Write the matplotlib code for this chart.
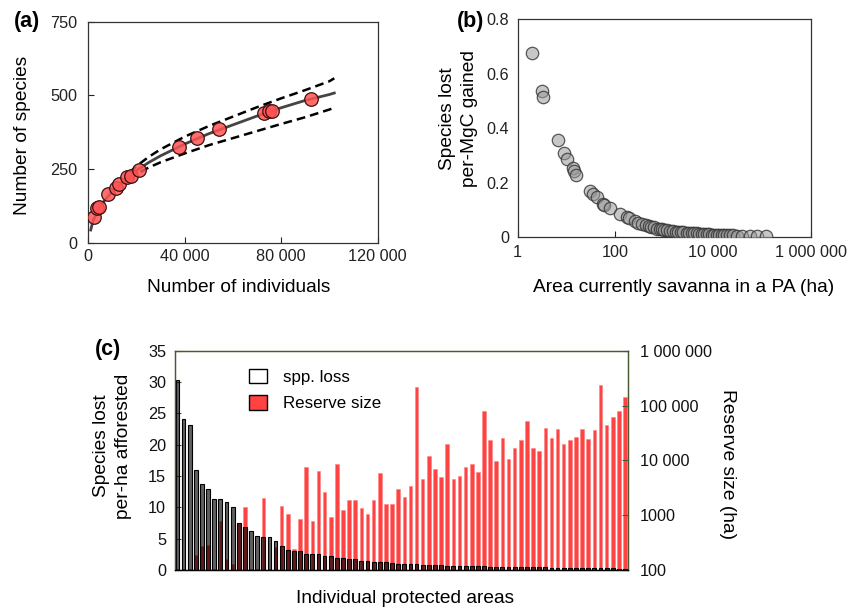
import matplotlib
matplotlib.use("Agg")
import matplotlib.pyplot as plt
from matplotlib.patches import Patch
import numpy as np

plt.rcParams['font.family'] = ['Liberation Sans', 'DejaVu Sans']

# ---------------- Panel (a) data ----------------
a_individuals = [2360, 3480, 4310, 8290, 11360, 12730, 16170, 17580, 21150,
                 37610, 45200, 54320, 72980, 74930, 76300, 92220]
a_species = [88, 117, 120, 164, 187, 199, 224, 227, 247,
             326, 354, 385, 441, 446, 448, 488]
fit_x = [1000, 2000, 5000, 10000, 15000, 20000, 25000, 30000, 40000, 50000,
         60000, 70000, 80000, 90000, 100000, 102000]
fit_mid = [43, 75, 125, 175, 213, 245, 272, 295, 335, 370, 400, 430, 458,
           483, 503, 508]
ci_x = [17000, 20000, 25000, 30000, 40000, 50000, 60000, 70000, 80000,
        90000, 100000, 102000]
fit_up = [238, 260, 291, 317, 360, 396, 428, 460, 490, 518, 548, 558]
fit_lo = [214, 233, 255, 273, 303, 331, 355, 379, 403, 426, 452, 458]
a_xticks = [0, 40000, 80000, 120000]
a_xlabels = ['0', '40 000', '80 000', '120 000']
a_yticks = [0, 250, 500, 750]
a_ylabels = ['0', '250', '500', '750']

# ---------------- Panel (b) data ----------------
b_area = [1.93, 3.09, 3.24, 6.57, 9.0, 10.0, 13.3, 14.2, 15.6, 30, 35, 41, 55,
          58, 77, 124, 169, 189, 250, 293, 343, 420, 492, 532, 600, 695, 800,
          880, 1000, 1112, 1300, 1523, 1700, 1928, 2200, 2438, 2853, 3200,
          3610, 4100, 4570, 5200, 5780, 6500, 7310, 8200, 9260, 10500, 11700,
          13000, 14800, 16500, 18800, 22000, 25700, 31000, 38000, 56200,
          77100, 117800]
b_loss = [0.674, 0.537, 0.513, 0.357, 0.308, 0.288, 0.255, 0.244, 0.228,
          0.168, 0.157, 0.146, 0.122, 0.119, 0.106, 0.084, 0.073, 0.070,
          0.060, 0.053, 0.048, 0.044, 0.041, 0.038, 0.036, 0.032, 0.030,
          0.029, 0.027, 0.026, 0.024, 0.022, 0.021, 0.020, 0.019, 0.018,
          0.017, 0.016, 0.015, 0.014, 0.014, 0.013, 0.012, 0.012, 0.011,
          0.011, 0.010, 0.010, 0.009, 0.009, 0.008, 0.008, 0.008, 0.007,
          0.007, 0.006, 0.006, 0.005, 0.005, 0.004]
b_xticks = [1, 100, 10000, 1000000]
b_xlabels = ['1', '100', '10 000', '1 000 000']
b_yticks = [0, 0.2, 0.4, 0.6, 0.8]
b_ylabels = ['0', '0.2', '0.4', '0.6', '0.8']

# ---------------- Panel (c) data ----------------
spp_loss = [30.3, 24.1, 23.1, 16.0, 13.8, 12.9, 11.3, 11.3, 10.9, 10.1,
            7.5, 6.9, 6.2, 5.4, 5.3, 5.2, 4.7, 3.8, 3.2, 3.1,
            3.0, 2.6, 2.6, 2.5, 2.2, 2.2, 1.9, 1.85, 1.8, 1.8,
            1.45, 1.45, 1.3, 1.25, 1.2, 1.05, 1.0, 0.95, 0.9, 0.9,
            0.85, 0.8, 0.8, 0.75, 0.7, 0.68, 0.65, 0.64, 0.62, 0.6,
            0.6, 0.55, 0.52, 0.5, 0.48, 0.46, 0.45, 0.44, 0.42, 0.4,
            0.4, 0.38, 0.36, 0.35, 0.34, 0.33, 0.32, 0.3, 0.29, 0.28,
            0.26, 0.25, 0.23, 0.2]
reserve_size = [105, 105, 105, 188, 274, 286, 105, 794, 157, 130,
                711, 1413, 105, 105, 2060, 105, 265, 1453, 1030, 239,
                863, 7670, 794, 6490, 2685, 939, 8710, 1228, 1871, 1871,
                1336, 1052, 1918, 5970, 1622, 1622, 3006, 2148, 3412, 215800,
                4634, 11890, 7060, 4980, 20180, 4520, 5130, 7585, 8490, 6070,
                78700, 23280, 9630, 25300, 10600, 16600, 23280, 51700, 17060, 14660,
                38500, 25300, 36900, 19650, 23280, 26400, 37900, 24900, 35400, 240900,
                44800, 61100, 79700, 141700]
c_lticks = [0, 5, 10, 15, 20, 25, 30, 35]
c_rticks = [100, 1000, 10000, 100000, 1000000]
c_rlabels = ['100', '1000', '10 000', '100 000', '1 000 000']

TICK_FS = 11.7
LAB_FS = 13.8
PANEL_FS = 15.5

fig = plt.figure(figsize=(8.52, 6.10), dpi=100)
W, H = 852.0, 610.0

def rect(l, t, r, b):
    return [l / W, 1 - b / H, (r - l) / W, (b - t) / H]

# ---------------- (a) ----------------
axa = fig.add_axes(rect(88.3, 21.7, 377.7, 242.7))
axa.plot(fit_x, fit_mid, color='#444444', lw=2.0, zorder=2)
axa.plot(ci_x, fit_up, color='black', lw=1.8, ls=(0, (3.5, 2.0)), zorder=2)
axa.plot(ci_x, fit_lo, color='black', lw=1.8, ls=(0, (3.5, 2.0)), zorder=2)
axa.scatter(a_individuals, a_species, s=95, facecolor=(1.0, 0.33, 0.33, 0.85),
            edgecolor='#3a1010', linewidth=0.9, zorder=3)
axa.set_xlim(0, 120000)
axa.set_ylim(0, 750)
axa.set_xticks(a_xticks)
axa.set_xticklabels(a_xlabels)
axa.set_yticks(a_yticks)
axa.set_yticklabels(a_ylabels)
axa.tick_params(direction='in', length=4, width=0.8, labelsize=TICK_FS, colors='#222222')
axa.tick_params(axis='y', pad=8)
axa.tick_params(axis='x', pad=4.5)
axa.set_xlabel('Number of individuals', fontsize=LAB_FS)
axa.set_ylabel('Number of species', fontsize=LAB_FS)
axa.xaxis.set_label_coords(0.519, -0.164)
axa.yaxis.set_label_coords(-0.198, 0.487)
for s in axa.spines.values():
    s.set_color('#333333')
    s.set_linewidth(0.9)
fig.text(27 / W, 1 - 21 / H, '(a)', fontsize=PANEL_FS, fontweight='bold',
         ha='center', va='center')

# ---------------- (b) ----------------
axb = fig.add_axes(rect(517.7, 19.0, 811.0, 237.3))
axb.scatter(b_area, b_loss, s=80, facecolor=(0.6, 0.6, 0.6, 0.55),
            edgecolor=(0.2, 0.2, 0.2, 0.8), linewidth=0.9, zorder=3)
axb.set_xscale('log')
axb.set_xlim(1, 1000000)
axb.set_ylim(0, 0.8)
axb.set_xticks(b_xticks)
axb.set_xticklabels(b_xlabels)
axb.xaxis.set_minor_locator(matplotlib.ticker.NullLocator())
axb.set_yticks(b_yticks)
axb.set_yticklabels(b_ylabels)
axb.tick_params(direction='in', length=4, width=0.8, labelsize=TICK_FS, colors='#222222')
axb.tick_params(axis='y', pad=6, length=0)
axb.tick_params(axis='x', pad=5.5)
axb.set_xlabel('Area currently savanna in a PA (ha)', fontsize=LAB_FS)
axb.set_ylabel('Species lost\nper-MgC gained', fontsize=LAB_FS, linespacing=1.4)
axb.xaxis.set_label_coords(0.567, -0.191)
axb.yaxis.set_label_coords(-0.135, 0.542)
for s in axb.spines.values():
    s.set_color('#333333')
    s.set_linewidth(0.9)
fig.text(471 / W, 1 - 21 / H, '(b)', fontsize=PANEL_FS, fontweight='bold',
         ha='center', va='center')

# ---------------- (c) ----------------
olive = '#4a5a30'
axc = fig.add_axes(rect(175.0, 350.7, 627.7, 570.0))
axr = axc.twinx()
axc.set_zorder(axr.get_zorder() + 1)
axc.patch.set_visible(False)

idx = np.arange(len(spp_loss))
reserve_arr = np.array(reserve_size, dtype=float)
axr.bar(idx, reserve_arr - 1.0, width=0.58, bottom=1.0, color='#ff4343',
        edgecolor='#ff8080', linewidth=0.4, zorder=1)
axr.set_yscale('log')
axr.set_ylim(100, 1000000)
axr.set_yticks(c_rticks)
axr.set_yticklabels(c_rlabels)
axr.yaxis.set_minor_locator(matplotlib.ticker.NullLocator())
axr.tick_params(axis='y', direction='in', length=4, width=0.8, color=olive,
                labelsize=TICK_FS, pad=9, labelcolor='#111111')
axr.set_ylabel('Reserve size (ha)', fontsize=LAB_FS, rotation=270)
axr.yaxis.set_label_coords(1.239, 0.483)

axc.bar(idx, spp_loss, width=0.62, facecolor=(0, 0, 0, 0.62),
        edgecolor='black', linewidth=0.8, zorder=2)
axc.set_xlim(-0.4, len(spp_loss) - 1 + 0.44)
axc.set_ylim(0, 35)
axc.set_yticks(c_lticks)
axc.set_xticks([])
axc.tick_params(axis='y', direction='in', length=4, width=0.8, color=olive,
                labelsize=TICK_FS, pad=6.5, labelcolor='#111111')
axc.set_ylabel('Species lost\nper-ha afforested', fontsize=LAB_FS, linespacing=1.4)
axc.yaxis.set_label_coords(-0.095, 0.565)
axc.set_xlabel('Individual protected areas', fontsize=LAB_FS)
axc.xaxis.set_label_coords(0.508, -0.091)
for ax in (axc, axr):
    for name, s in ax.spines.items():
        s.set_linewidth(0.9)
        s.set_color('black' if name == 'bottom' else olive)

handles = [Patch(facecolor='white', edgecolor='black', linewidth=1.0),
           Patch(facecolor='#ff4343', edgecolor='black', linewidth=1.0)]
axc.legend(handles, ['spp. loss', 'Reserve size'], loc='upper left',
           bbox_to_anchor=(0.163, 0.918), frameon=False, fontsize=12.2,
           handlelength=1.05, handleheight=0.95, handletextpad=0.95,
           labelspacing=0.6, borderpad=0, borderaxespad=0)
fig.text(108 / W, 1 - 350 / H, '(c)', fontsize=PANEL_FS, fontweight='bold',
         ha='center', va='center')

fig.savefig('out.png', dpi=100)
